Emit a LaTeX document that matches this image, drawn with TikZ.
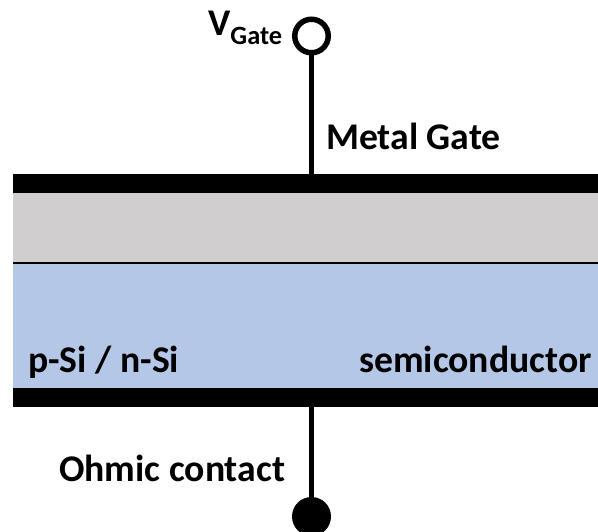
\documentclass[tikz,border=0pt]{standalone}
\usepackage{fontspec}
\setmainfont{Carlito}
\usetikzlibrary{positioning}
\definecolor{oxidegrey}{RGB}{208,206,206}
\definecolor{semiblue}{RGB}{180,199,231}

\begin{document}
\begin{tikzpicture}[
				x=1pt, y=1pt,
				node distance=0pt,
				layer/.style={
					rectangle,
					inner sep=0pt,
					outer sep=0pt,
					minimum width=585pt
				},
				metal/.style={
					layer,
					fill=black,
					minimum height=18.5pt
				},
				wire/.style={
					line width=5.5pt
				},
				label/.style={
					inner sep=0pt,
					font=\fontsize{37.7}{40}\selectfont\bfseries
				}
				]
				
				\clip (0,0) rectangle (598,-532);
				\fill[white] (0,0) rectangle (598,-532);
				
				% Layer stack
				\node[metal, anchor=north west] (gatemetal) at (13,-174.5) {};
				\node[layer, fill=oxidegrey, minimum height=70pt, below=of gatemetal] (oxide) {};
				\node[layer, fill=semiblue, minimum height=125pt, below=of oxide] (semi) {};
				\node[metal, below=of semi] (ohmicmetal) {};
				
				% Line between oxide and semiconductor
				\draw[line width=1.4pt] (oxide.south west) -- (oxide.south east);
				
				% Terminals
				\node[circle, draw, line width=5.5pt, fill=white, inner sep=0pt, minimum size=33.5pt] (gateterm) at (311.5,-36) {};
				\node[circle, fill=black, inner sep=0pt, minimum size=39pt] (ohmicterm) at (311.5,-516.5) {};
				
				\draw[wire] (gateterm.south) -- (gateterm.south |- gatemetal.north);
				\draw[wire] (ohmicmetal.south -| ohmicterm.north) -- (ohmicterm.north);
				
				% Labels
				\node[label, anchor=base west] (gatelabel) at (208,-36) {V\textsubscript{Gate}};
				\node[label, anchor=base west] (metallabel) at (326,-150) {Metal Gate};
				\node[label, anchor=base west] (typelabel) at (28,-372) {p-Si / n-Si};
				\node[label, anchor=base east] (semilabel) at (592,-372) {semiconductor};
				\node[label, anchor=base west] (ohmiclabel) at (59,-481.5) {Ohmic contact};
				
			\end{tikzpicture}
\end{document}
